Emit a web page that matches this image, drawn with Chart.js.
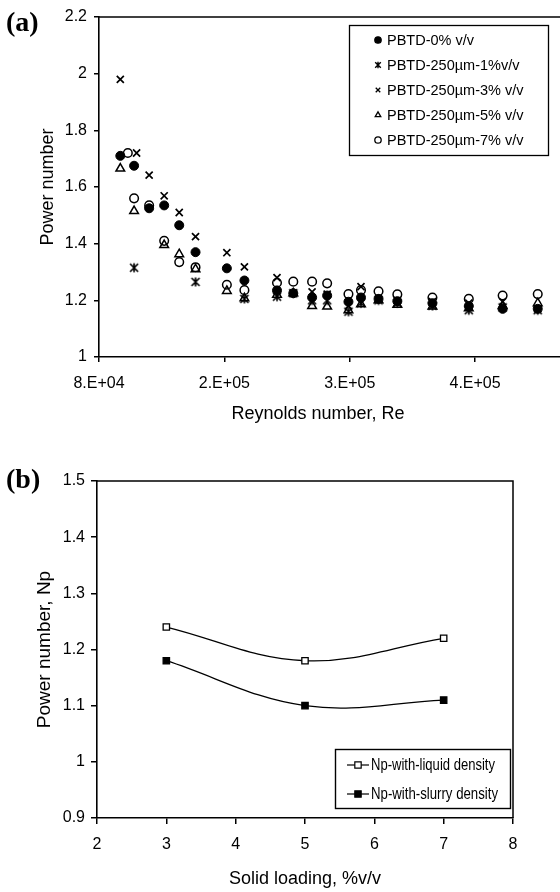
<!DOCTYPE html>
<html><head><meta charset="utf-8">
<script src="https://cdn.jsdelivr.net/npm/chart.js@4.4.0/dist/chart.umd.min.js"></script>
<style>
html,body{margin:0;padding:0;background:#fff;width:560px;height:892px;overflow:hidden}
#wa{position:absolute;left:0;top:0;width:568px;height:430px}
#wb{position:absolute;left:0;top:440px;width:560px;height:452px}
</style></head><body>
<div id="wa"><canvas id="ca"></canvas></div>
<div id="wb"><canvas id="cb"></canvas></div>
<script>
// ---------- DATA: panel (a) ----------
const labelsA = ["PBTD-0% v/v", "PBTD-250\u00b5m-1%v/v", "PBTD-250\u00b5m-3% v/v", "PBTD-250\u00b5m-5% v/v", "PBTD-250\u00b5m-7% v/v"];
const re0  = [97000,108000,120000,132000,144000,157000,182000,196000,222000,235000,250000,262000,279000,289000,303000,318000,346000,375000,402000,430000];
const np0  = [1.71,1.675,1.525,1.535,1.465,1.37,1.313,1.27,1.235,1.225,1.21,1.217,1.195,1.21,1.205,1.197,1.19,1.18,1.17,1.17];
const re1  = [108000,157000,196000,222000,235000,250000,262000,279000,289000,303000,318000,346000,375000,402000,430000];
const np1  = [1.315,1.265,1.205,1.213,1.225,1.2,1.2,1.16,1.19,1.2,1.19,1.18,1.165,1.175,1.165];
const re3  = [97000,110000,120000,132000,144000,157000,182000,196000,222000,235000,250000,262000,279000,289000,303000,318000,346000,375000,402000,430000];
const np3  = [1.98,1.72,1.642,1.569,1.51,1.425,1.368,1.318,1.28,1.225,1.23,1.222,1.18,1.248,1.205,1.2,1.195,1.19,1.195,1.17];
const re5  = [97000,108000,132000,144000,157000,182000,196000,222000,235000,250000,262000,279000,289000,303000,318000,346000,375000,402000,430000];
const np5  = [1.665,1.515,1.395,1.363,1.31,1.233,1.207,1.22,1.225,1.18,1.178,1.165,1.186,1.2,1.184,1.178,1.172,1.18,1.19];
const re7  = [103000,108000,120000,132000,144000,157000,182000,196000,222000,235000,250000,262000,279000,289000,303000,318000,346000,375000,402000,430000];
const np7  = [1.72,1.56,1.535,1.41,1.335,1.317,1.255,1.236,1.262,1.266,1.266,1.26,1.222,1.236,1.232,1.221,1.21,1.205,1.217,1.222];
const xTicksA = [80000,180000,280000,380000];
const yTicksA = [1,1.2,1.4,1.6,1.8,2,2.2];

// ---------- DATA: panel (b) ----------
const labelsB = ["Np-with-liquid density", "Np-with-slurry density"];
const loading = [3,5,7];
const npLiquid = [1.24,1.18,1.22];
const npSlurry = [1.18,1.10,1.11];
const xTicksB = [2,3,4,5,6,7,8];
const yTicksB = [0.9,1,1.1,1.2,1.3,1.4,1.5];

// ---------- styling ----------
const SANS = "'Liberation Sans', Arial, Helvetica, sans-serif";
const NARROW = "'Liberation Sans Narrow', 'Arial Narrow', 'Liberation Sans', Arial, sans-serif";
const SERIF = "'Liberation Serif', 'Times New Roman', serif";

function starImg(r, lw){
  const s = Math.ceil(2*r+4); const c = document.createElement('canvas'); c.width = c.height = s;
  const g = c.getContext('2d'); const m = s/2;
  g.strokeStyle = '#000'; g.lineWidth = lw; g.beginPath();
  g.moveTo(m-r,m-r); g.lineTo(m+r,m+r); g.moveTo(m+r,m-r); g.lineTo(m-r,m+r);
  g.moveTo(m,m-r-0.5); g.lineTo(m,m+r+0.5); g.stroke();
  return c;
}
const STAR = starImg(4, 1.7);
const STAR_SMALL = starImg(2.8, 1.4);

const stylesA = [
  {pointStyle:'circle', radius:4.5, bg:'#000', bw:1},
  {pointStyle:STAR, legendStyle:STAR_SMALL, radius:4, bg:'#000', bw:1},
  {pointStyle:'crossRot', radius:5, bg:'#000', bw:1.7},
  {pointStyle:'triangle', radius:5, bg:'rgba(0,0,0,0)', bw:1.5},
  {pointStyle:'circle', radius:4.3, bg:'rgba(0,0,0,0)', bw:1.5}
];
const seriesA = [[re0,np0],[re1,np1],[re3,np3],[re5,np5],[re7,np7]];

function fmtE(v){
  let e = Math.floor(Math.log10(v)); let m = Math.round(v/Math.pow(10,e));
  if (m >= 10){ m = 1; e++; }
  return m + '.E+' + String(e).padStart(2,'0');
}
function fmtN(v){ return String(Number(v.toFixed(2))); }

function setFont(ctx, size, fam, weight){ ctx.font = (weight||'normal') + ' ' + size + 'px ' + fam; }
function fitText(ctx, text, x, y, w){
  const mw = ctx.measureText(text).width;
  ctx.save(); ctx.translate(x, y); if (w && mw > w) ctx.scale(w/mw, 1); ctx.fillText(text, 0, 0); ctx.restore();
}

const decorA = {
  id:'decorA',
  afterDraw(chart){
    const ctx = chart.ctx, a = chart.chartArea;
    ctx.save();
    ctx.strokeStyle = '#000'; ctx.lineWidth = 1.5;
    ctx.beginPath(); ctx.moveTo(a.left, a.top); ctx.lineTo(a.right, a.top); ctx.stroke();
    // legend
    ctx.lineWidth = 1.3;
    ctx.strokeRect(349.5, 25.5, 199, 130);
    setFont(ctx, 14.5, SANS);
    ctx.textBaseline = 'middle'; ctx.textAlign = 'left'; ctx.fillStyle = '#000';
    labelsA.forEach((lab, i) => {
      const y = 40 + i*25;
      const st = stylesA[i];
      ctx.fillStyle = st.bg; ctx.strokeStyle = '#000';
      Chart.helpers.drawPoint(ctx, {pointStyle: st.legendStyle || st.pointStyle, radius: 3.2, rotation:0, borderWidth: Math.min(st.bw, 1.3)}, 378, y);
      ctx.fillStyle = '#000';
      ctx.fillText(lab, 387, y + 1);
    });
    // titles
    setFont(ctx, 18, SANS); ctx.textAlign = 'center';
    ctx.fillText('Reynolds number, Re', 318, 414);
    ctx.save(); ctx.translate(48, (a.top + a.bottom)/2); ctx.rotate(-Math.PI/2);
    ctx.fillText('Power number', 0, 0); ctx.restore();
    setFont(ctx, 28, SERIF, 'bold'); ctx.textAlign = 'left';
    ctx.fillText('(a)', 6, 24);
    ctx.restore();
  }
};

const decorB = {
  id:'decorB',
  afterDraw(chart){
    const ctx = chart.ctx, a = chart.chartArea;
    ctx.save();
    ctx.strokeStyle = '#000'; ctx.lineWidth = 1.5;
    ctx.beginPath(); ctx.moveTo(a.left, a.top); ctx.lineTo(a.right, a.top); ctx.lineTo(a.right, a.bottom); ctx.stroke();
    // legend
    ctx.lineWidth = 1.4;
    ctx.fillStyle = '#fff'; ctx.fillRect(335, 309, 175, 59);
    ctx.strokeRect(335.5, 309.5, 175, 59);
    const rows = [325, 354];
    const fills = ['#fff', '#000'];
    labelsB.forEach((lab, i) => {
      const y = rows[i];
      ctx.strokeStyle = '#000'; ctx.lineWidth = 1.2;
      ctx.beginPath(); ctx.moveTo(347, y); ctx.lineTo(369, y); ctx.stroke();
      ctx.fillStyle = fills[i];
      Chart.helpers.drawPoint(ctx, {pointStyle:'rect', radius:4.5, rotation:0, borderWidth:1.2}, 358, y);
      ctx.fillStyle = '#000'; setFont(ctx, 16, NARROW);
      ctx.textBaseline = 'middle'; ctx.textAlign = 'left';
      fitText(ctx, lab, 371, y + 1, i === 0 ? 124 : 127);
    });
    // titles
    ctx.fillStyle = '#000'; ctx.textBaseline = 'middle';
    setFont(ctx, 18, SANS); ctx.textAlign = 'center';
    ctx.fillText('Solid loading, %v/v', (a.left + a.right)/2, 439);
    setFont(ctx, 19, SANS);
    ctx.save(); ctx.translate(45, (a.top + a.bottom)/2); ctx.rotate(-Math.PI/2);
    ctx.fillText('Power number, Np', 0, 0); ctx.restore();
    setFont(ctx, 28, SERIF, 'bold'); ctx.textAlign = 'left';
    ctx.fillText('(b)', 6, 41);
    ctx.restore();
  }
};

function axisCommon(tl){
  return {
    grid:{display:true, drawOnChartArea:false, drawTicks:true, tickLength:tl, color:'#000', lineWidth:1.5},
    border:{display:true, color:'#000', width:1.6}
  };
}

new Chart(document.getElementById('ca'), {
  type:'scatter',
  data:{datasets: seriesA.map((s, i) => ({
    label: labelsA[i],
    data: s[0].map((x, j) => ({x: x, y: s[1][j]})),
    pointStyle: stylesA[i].pointStyle,
    pointRadius: stylesA[i].radius,
    pointBackgroundColor: stylesA[i].bg,
    pointBorderColor: '#000',
    pointBorderWidth: stylesA[i].bw,
    showLine:false
  }))},
  options:{
    responsive:true, maintainAspectRatio:false, animation:false, devicePixelRatio:1,
    layout:{padding:{left:0, right:0, top:17, bottom:0}},
    plugins:{legend:{display:false}, tooltip:{enabled:false}},
    scales:{
      x: Object.assign(axisCommon(5), {
        type:'linear', min:80000, max:448800,
        afterBuildTicks: s => { s.ticks = xTicksA.map(v => ({value:v})); },
        afterFit: s => { s.height = 73; },
        ticks:{callback: v => fmtE(v), color:'#000', font:{size:16, family:SANS}, padding:12, maxRotation:0, autoSkip:false}
      }),
      y: Object.assign(axisCommon(5), {
        type:'linear', min:1, max:2.2,
        afterBuildTicks: s => { s.ticks = yTicksA.map(v => ({value:v})); },
        afterFit: s => { s.width = 99; },
        ticks:{callback: v => fmtN(v), color:'#000', font:{size:16, family:SANS}, padding:7}
      })
    }
  },
  plugins:[decorA]
});

new Chart(document.getElementById('cb'), {
  type:'scatter',
  data:{datasets:[
    {label: labelsB[0], data: loading.map((x, j) => ({x: x, y: npLiquid[j]})), showLine:true, tension:0.38,
     borderColor:'#000', borderWidth:1.3, pointStyle:'rect', pointRadius:4.5, pointBackgroundColor:'#fff', pointBorderColor:'#000', pointBorderWidth:1.3},
    {label: labelsB[1], data: loading.map((x, j) => ({x: x, y: npSlurry[j]})), showLine:true, tension:0.38,
     borderColor:'#000', borderWidth:1.3, pointStyle:'rect', pointRadius:4.5, pointBackgroundColor:'#000', pointBorderColor:'#000', pointBorderWidth:1.3}
  ]},
  options:{
    responsive:true, maintainAspectRatio:false, animation:false, devicePixelRatio:1,
    layout:{padding:{left:0, right:47, top:41, bottom:0}},
    plugins:{legend:{display:false}, tooltip:{enabled:false}},
    scales:{
      x: Object.assign(axisCommon(6), {
        type:'linear', min:2, max:8,
        afterBuildTicks: s => { s.ticks = xTicksB.map(v => ({value:v})); },
        afterFit: s => { s.height = 74; },
        ticks:{callback: v => fmtN(v), color:'#000', font:{size:16, family:SANS}, padding:11, maxRotation:0, autoSkip:false}
      }),
      y: Object.assign(axisCommon(6), {
        type:'linear', min:0.9, max:1.5,
        afterBuildTicks: s => { s.ticks = yTicksB.map(v => ({value:v})); },
        afterFit: s => { s.width = 97; },
        ticks:{callback: v => fmtN(v), color:'#000', font:{size:16, family:SANS}, padding:6}
      })
    }
  },
  plugins:[decorB]
});
</script>
</body></html>
